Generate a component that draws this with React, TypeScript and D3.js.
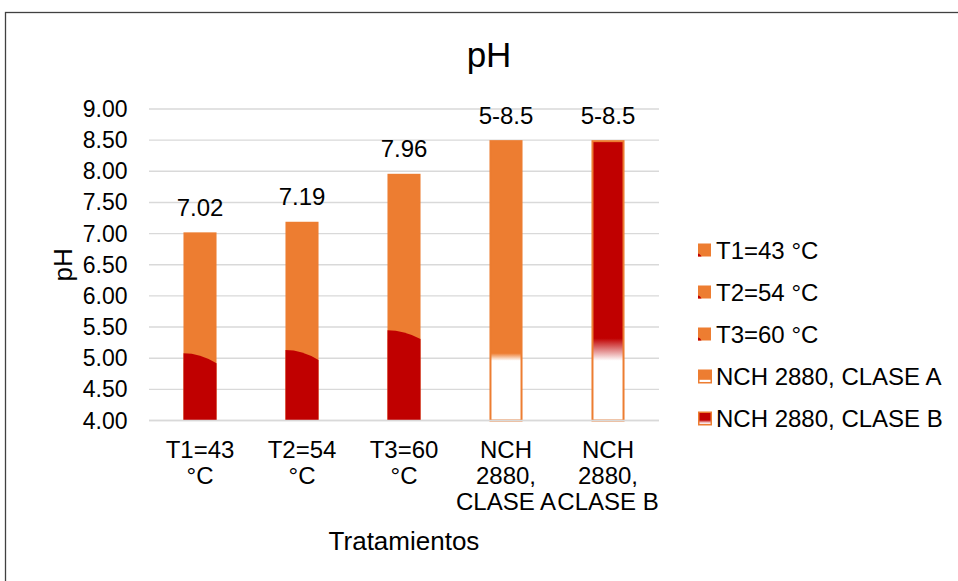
import React from "react";
import * as d3 from "d3";

const categories = ["T1=43 °C", "T2=54 °C", "T3=60 °C", "NCH 2880, CLASE A", "NCH 2880, CLASE B"];
const categoryLines = [
  ["T1=43", "°C"],
  ["T2=54", "°C"],
  ["T3=60", "°C"],
  ["NCH", "2880,", "CLASE A"],
  ["NCH", "2880,", "CLASE B"],
];
const phValues = [7.02, 7.19, 7.96, 8.5, 8.5];
const dataLabels = ["7.02", "7.19", "7.96", "5-8.5", "5-8.5"];
const yTicks = [4, 4.5, 5, 5.5, 6, 6.5, 7, 7.5, 8, 8.5, 9];
const yDomain = [4, 9];
// lower red part of the T bars (pH where the curved edge meets the left / right side)
const redEdgeLeft = [5.08, 5.13, 5.45];
const redEdgeRight = [4.92, 4.97, 5.31];
// NCH bars: fill fades to white between these pH values
const fadeStart = [5.08, 5.32];
const fadeEnd = [4.96, 4.96];
const legendItems = ["T1=43 °C", "T2=54 °C", "T3=60 °C", "NCH 2880, CLASE A", "NCH 2880, CLASE B"];

const ORANGE = "#ED7D31";
const RED = "#C00000";
const GRID = "#D9D9D9";
const FONT = "'Liberation Sans', Arial, sans-serif";

export default function App() {
  const W = 958;
  const H = 581;
  const x = d3
    .scaleBand<string>()
    .domain(categories)
    .range([149, 659])
    .paddingInner(0.676)
    .paddingOuter(0.338);
  const y = d3.scaleLinear().domain(yDomain).range([420.5, 109]);
  const bw = x.bandwidth();
  const base = y(yDomain[0]);

  return (
    <svg
      width={W}
      height={H}
      style={{ position: "absolute", left: 0, top: 0, display: "block", background: "#fff" }}
      fontFamily={FONT}
    >
      <defs>
        {fadeStart.map((fs, k) => (
          <linearGradient
            key={k}
            id={`fade${k}`}
            gradientUnits="userSpaceOnUse"
            x1={0}
            x2={0}
            y1={y(fs)}
            y2={y(fadeEnd[k])}
          >
            <stop offset="0" stopColor={k === 0 ? ORANGE : RED} />
            <stop offset="1" stopColor="#FFFFFF" />
          </linearGradient>
        ))}
        <linearGradient id="legA" x1="0" x2="0" y1="0" y2="1">
          <stop offset="0" stopColor={ORANGE} />
          <stop offset="0.72" stopColor={ORANGE} />
          <stop offset="0.82" stopColor="#FFFFFF" />
          <stop offset="1" stopColor="#FFF4EE" />
        </linearGradient>
        <linearGradient id="legB" x1="0" x2="0" y1="0" y2="1">
          <stop offset="0" stopColor={RED} />
          <stop offset="0.62" stopColor={RED} />
          <stop offset="0.85" stopColor="#F6DADA" />
          <stop offset="1" stopColor="#FFFFFF" />
        </linearGradient>
      </defs>

      <rect x={5.5} y={12.5} width={1000} height={1000} fill="#fff" stroke="#404040" strokeWidth={1.3} />

      {/* title */}
      <text x={489} y={66.5} textAnchor="middle" fontSize={35} fill="#000">
        pH
      </text>

      {/* gridlines */}
      {yTicks.map((t) => (
        <line key={t} x1={149} x2={659} y1={y(t)} y2={y(t)} stroke={GRID} strokeWidth={1.4} />
      ))}

      {/* bars */}
      {categories.map((c, i) => {
        const x0 = x(c) as number;
        const top = y(phValues[i]);
        if (i < 3) {
          const yl = y(redEdgeLeft[i]);
          const yr = y(redEdgeRight[i]);
          const path = `M${x0},${base} L${x0},${yl} Q${x0 + bw / 2},${yl} ${x0 + bw},${yr} L${x0 + bw},${base} Z`;
          return (
            <g key={c}>
              <rect x={x0} y={top} width={bw} height={base - top} fill={ORANGE} />
              <path d={path} fill={RED} />
            </g>
          );
        }
        const k = i - 3;
        return (
          <rect
            key={c}
            x={x0 + 1}
            y={top + 1}
            width={bw - 2}
            height={base - top - 1}
            fill={`url(#fade${k})`}
            stroke={ORANGE}
            strokeWidth={2}
          />
        );
      })}

      {/* baseline */}
      <line x1={149} x2={659} y1={base} y2={base} stroke={GRID} strokeWidth={1.4} />

      {/* data labels */}
      {categories.map((c, i) => (
        <text
          key={c}
          x={(x(c) as number) + bw / 2}
          y={y(phValues[i]) - 16.5}
          textAnchor="middle"
          fontSize={24}
          fill="#000"
        >
          {dataLabels[i]}
        </text>
      ))}

      {/* y tick labels */}
      {yTicks.map((t) => (
        <text key={t} x={127.5} y={y(t) + 8} textAnchor="end" fontSize={23} fill="#000">
          {d3.format(".2f")(t)}
        </text>
      ))}

      {/* category labels */}
      {categories.map((c, i) => (
        <text key={c} textAnchor="middle" fontSize={24} fill="#000">
          {categoryLines[i].map((ln, j) => (
            <tspan key={j} x={(x(c) as number) + bw / 2} y={458 + j * 26}>
              {ln}
            </tspan>
          ))}
        </text>
      ))}

      {/* axis titles */}
      <text x={404} y={550} textAnchor="middle" fontSize={26} fill="#000">
        Tratamientos
      </text>
      <text
        transform={`translate(72,${(y(yDomain[0]) + y(yDomain[1])) / 2}) rotate(-90)`}
        textAnchor="middle"
        fontSize={26}
        fill="#000"
      >
        pH
      </text>

      {/* legend */}
      {legendItems.map((name, i) => {
        const cy = 250 + i * 42;
        const sx = 698;
        const sy = cy - 6.5;
        let marker;
        if (i < 3) {
          marker = (
            <g>
              <rect x={sx} y={sy} width={13} height={13} fill={ORANGE} />
              <path d={`M${sx},${sy + 13} L${sx},${sy + 10} Q${sx + 2},${sy + 10} ${sx + 3.5},${sy + 13} Z`} fill={RED} />
            </g>
          );
        } else {
          marker = (
            <rect
              x={sx + 0.75}
              y={sy + 0.75}
              width={12.5}
              height={12.5}
              fill={i === 3 ? "url(#legA)" : "url(#legB)"}
              stroke={ORANGE}
              strokeWidth={1.5}
            />
          );
        }
        return (
          <g key={name}>
            {marker}
            <text x={716} y={cy + 8.5} fontSize={24} fill="#000">
              {name}
            </text>
          </g>
        );
      })}
    </svg>
  );
}
